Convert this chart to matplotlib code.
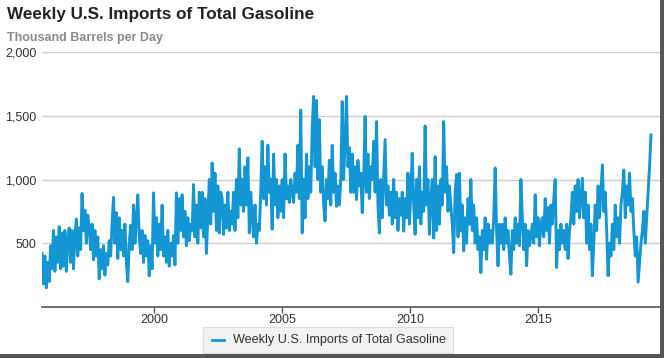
import numpy as np
import pandas as pd
import matplotlib
matplotlib.use("Agg")
import matplotlib.pyplot as plt
import matplotlib.dates as mdates
from matplotlib.patches import Rectangle
from matplotlib.lines import Line2D

plt.rcParams['font.family'] = ['Liberation Sans', 'DejaVu Sans']

TITLE = "Weekly U.S. Imports of Total Gasoline"
UNITS = "Thousand Barrels per Day"
START = "1995-08-16"
END = "2019-06-01"

# values, thousand barrels per day, in time order
imports_1995_1999 = [
    420, 180, 400, 150, 350, 200, 480,
    300, 600, 280, 550, 350, 630, 300,
    580, 320, 600, 280, 520, 620, 350,
    600, 300, 550, 690, 400, 620, 450,
    890, 600, 760, 500, 720, 620, 450,
    650, 370, 600, 400, 550, 220, 450,
    300, 480, 250, 420, 330, 520, 400,
    650, 860, 500, 740, 380, 700, 450,
    600, 400, 650, 350, 200, 500, 640,
    450, 800, 500, 700, 880, 550, 420,
]
imports_1999_2003 = [
    600, 350, 560, 400, 520, 245, 480,
    300, 895, 500, 700, 400, 650, 450,
    800, 400, 550, 350, 600, 320, 500,
    400, 560, 330, 895, 500, 850, 600,
    880, 550, 750, 480, 700, 520, 650,
    600, 960, 550, 800, 500, 900, 620,
    900, 550, 850, 420, 700, 1000, 650,
    1130, 750, 1050, 600, 950, 580, 900,
    850, 570, 800, 620, 900, 600, 750,
    650, 900, 600, 1000, 700, 1240, 800,
]
imports_2003_2007 = [
    1000, 750, 1100, 800, 1170, 580, 900,
    700, 550, 800, 500, 650, 600, 900,
    1300, 850, 1100, 800, 1270, 900, 1000,
    610, 1200, 800, 1000, 700, 950, 750,
    1000, 700, 1200, 850, 950, 820, 1000,
    900, 820, 1050, 900, 1270, 850, 1545,
    580, 1000, 700, 1200, 850, 1100, 900,
    1400, 1651, 1100, 1620, 1000, 1469, 900,
    1100, 800, 675, 1000, 850, 1150, 800,
    1268, 900, 1050, 790, 950, 800, 1000,
]
imports_2007_2011 = [
    1612, 1000, 1300, 1651, 1100, 1250, 900,
    1200, 900, 1100, 843, 1150, 950, 1050,
    740, 1000, 1495, 900, 1200, 850, 1100,
    1000, 1300, 900, 1455, 800, 580, 1000,
    700, 1000, 1313, 800, 950, 720, 900,
    650, 1000, 700, 900, 600, 850, 720,
    900, 595, 850, 700, 1050, 650, 900,
    1206, 800, 570, 1000, 700, 1100, 650,
    900, 750, 1420, 800, 1000, 570, 850,
    1000, 540, 1180, 600, 950, 650, 1000,
]
imports_2011_2015 = [
    800, 1455, 900, 1100, 750, 950, 800,
    650, 427, 900, 1040, 550, 1050, 600,
    800, 440, 700, 500, 850, 650, 1000,
    600, 800, 500, 700, 450, 550, 270,
    600, 450, 700, 375, 650, 500, 600,
    500, 700, 1090, 600, 323, 650, 500,
    650, 450, 700, 500, 600, 400, 257,
    600, 450, 700, 500, 650, 480, 1000,
    700, 450, 650, 323, 600, 480, 550,
    650, 500, 880, 550, 700, 480, 650,
]
imports_2015_2019 = [
    700, 550, 850, 600, 780, 500, 800,
    650, 850, 1000, 310, 600, 450, 650,
    500, 600, 450, 650, 380, 600, 700,
    900, 650, 950, 750, 1000, 700, 850,
    1010, 700, 900, 500, 800, 450, 650,
    245, 500, 800, 600, 950, 700, 900,
    1115, 750, 900, 600, 245, 500, 400,
    650, 450, 800, 550, 700, 500, 800,
    900, 1075, 700, 950, 800, 1050, 750,
    850, 600, 400, 550, 195, 350, 500,
    600, 750, 500, 700, 900, 1100, 1350,
]

Y_TICKS = [500, 1000, 1500, 2000]
X_TICK_YEARS = [2000, 2005, 2010, 2015]
LINE_BLUE = '#1496d4'


def main():
    values = np.concatenate([imports_1995_1999, imports_1999_2003, imports_2003_2007,
                             imports_2007_2011, imports_2011_2015, imports_2015_2019])
    dates = pd.date_range(START, END, periods=len(values))

    fig = plt.figure(figsize=(6.64, 3.58), dpi=100)
    ax = fig.add_axes([0.0633, 0.1425, 0.9307, 0.7122])

    ax.plot(dates, values, color=LINE_BLUE, linewidth=2.1)

    ax.set_ylim(0, 2000)
    ax.set_xlim(pd.Timestamp(START), pd.Timestamp("2019-10-08"))
    ax.set_yticks(Y_TICKS)
    ax.set_yticklabels([f"{v:,}" for v in Y_TICKS], fontsize=9, color='#333333')
    ax.yaxis.grid(True, color='#cfcfcf', linewidth=1)
    ax.tick_params(axis='y', length=0, pad=4)

    ax.set_xticks([pd.Timestamp(f"{y}-01-01") for y in X_TICK_YEARS])
    ax.xaxis.set_major_formatter(mdates.DateFormatter('%Y'))
    ax.tick_params(axis='x', length=4, width=1, color='#555555', labelsize=9,
                   labelcolor='#333333', pad=1)

    for side in ['top', 'left', 'right']:
        ax.spines[side].set_visible(False)
    ax.spines['bottom'].set_color('#555555')
    ax.spines['bottom'].set_linewidth(1.2)
    ax.set_axisbelow(True)

    fig.text(7 / 664, 1 - 14 / 358, TITLE, fontsize=12.3, fontweight='bold',
             color='#222222', va='center', ha='left')
    fig.text(7 / 664, 1 - 38 / 358, UNITS, fontsize=9.0, fontweight='bold',
             color='#8a8a8a', va='center', ha='left')

    # legend box drawn at the bottom centre
    fig.patches.append(Rectangle((203 / 664, 1 - 353 / 358), 250 / 664, 26 / 358,
                                 transform=fig.transFigure, facecolor='#f2f2f2',
                                 edgecolor='#dddddd', linewidth=0.8))
    fig.lines.append(Line2D([212 / 664, 224 / 664], [1 - 340 / 358, 1 - 340 / 358],
                            transform=fig.transFigure, color=LINE_BLUE, linewidth=2))
    fig.text(233 / 664, 1 - 340 / 358, TITLE, fontsize=9.1, color='#333333',
             va='center', ha='left')

    # screenshot shadow edges
    fig.patches.append(Rectangle((660 / 664, 0), 4 / 664, 1, transform=fig.transFigure,
                                 facecolor='#555555', edgecolor='none'))
    fig.patches.append(Rectangle((0, 0), 1, 4 / 358, transform=fig.transFigure,
                                 facecolor='#555555', edgecolor='none'))

    fig.savefig("out.png", dpi=100)


if __name__ == "__main__":
    main()
